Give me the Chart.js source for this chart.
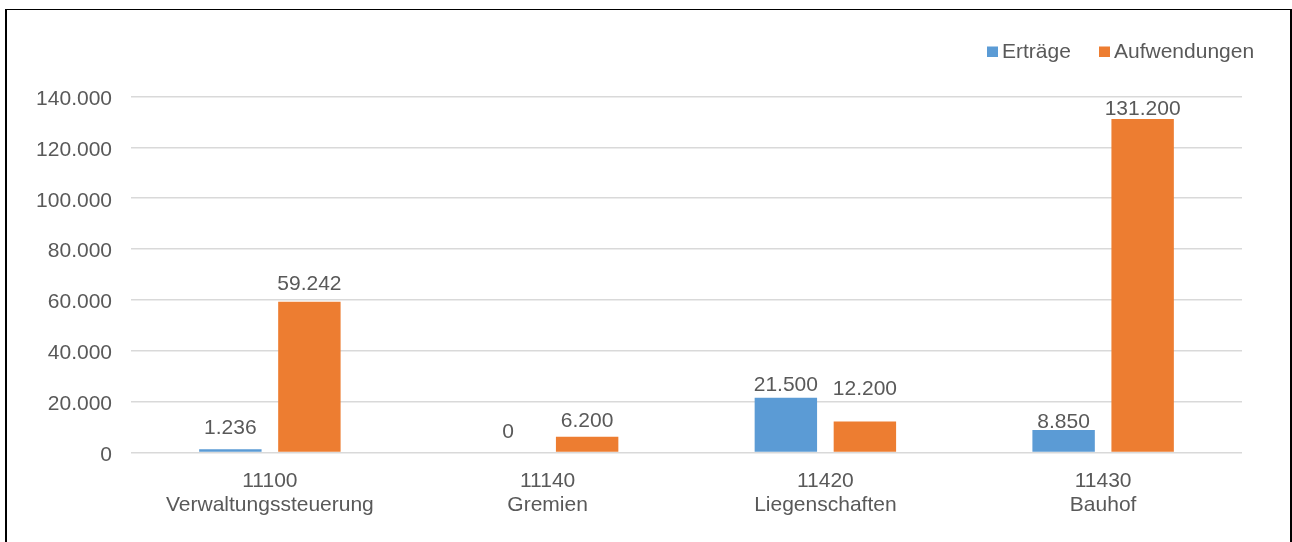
<!DOCTYPE html>
<html>
<head>
<meta charset="utf-8">
<script src="https://cdn.jsdelivr.net/npm/chart.js@4.4.1/dist/chart.umd.min.js"></script>
<style>
  html, body { margin: 0; padding: 0; background: #fff; }
  #wrap { position: relative; width: 1292px; height: 542px; overflow: hidden; }
  #frame { position: absolute; left: 5px; top: 9px; width: 1287px; height: 600px;
           box-sizing: border-box; border-left: 2px solid #000; border-top: 1px solid #000; border-right: 2px solid #000; }
  canvas { position: absolute; left: 0; top: 0; }
</style>
</head>
<body>
<div id="wrap">
  <div id="frame"></div>
  <canvas id="c" width="1292" height="542"></canvas>
</div>
<script>
// ---- data ----
const categoryCodes = ['11100', '11140', '11420', '11430'];
const categoryNames = ['Verwaltungssteuerung', 'Gremien', 'Liegenschaften', 'Bauhof'];
const ertraege = [1236, 0, 21500, 8850];
const aufwendungen = [59242, 6200, 12200, 131200];
const seriesNames = ['Erträge', 'Aufwendungen'];
const yTicks = [0, 20000, 40000, 60000, 80000, 100000, 120000, 140000];

// ---- styles ----
const TEXT = '#595959';
const FONT = '"Liberation Sans", Arial, sans-serif';
const COLORS = ['#5B9BD5', '#ED7D31'];
// vertical distance from bar top to label centre (Excel placed them individually)
const labelOffsets = [[21, 20, 13, 8], [17.5, 15.5, 32.5, 9.5]];

function fmt(v) {
  return String(Math.round(v)).replace(/\B(?=(\d{3})+(?!\d))/g, '.');
}

const valueLabels = {
  id: 'valueLabels',
  afterDatasetsDraw(chart) {
    const ctx = chart.ctx;
    ctx.save();
    ctx.font = '21px ' + FONT;
    ctx.fillStyle = TEXT;
    ctx.textAlign = 'center';
    ctx.textBaseline = 'middle';
    chart.data.datasets.forEach((ds, di) => {
      const meta = chart.getDatasetMeta(di);
      meta.data.forEach((el, i) => {
        ctx.fillText(fmt(ds.data[i]), el.x, el.y - labelOffsets[di][i]);
      });
    });
    ctx.restore();
  }
};

const legendBoxes = [{ box: 987, text: 1002 }, { box: 1099, text: 1114 }];
const customLegend = {
  id: 'customLegend',
  afterDraw(chart) {
    const ctx = chart.ctx;
    ctx.save();
    ctx.font = '21px ' + FONT;
    ctx.textBaseline = 'middle';
    ctx.textAlign = 'left';
    chart.data.datasets.forEach((ds, di) => {
      const p = legendBoxes[di];
      ctx.fillStyle = ds.backgroundColor;
      ctx.fillRect(p.box, 46.5, 11, 10.5);
      ctx.fillStyle = TEXT;
      ctx.fillText(ds.label, p.text, 52.5);
    });
    ctx.restore();
  }
};

new Chart(document.getElementById('c'), {
  type: 'bar',
  data: {
    labels: categoryCodes.map((c, i) => [c, categoryNames[i]]),
    datasets: [
      { label: seriesNames[0], data: ertraege, backgroundColor: COLORS[0] },
      { label: seriesNames[1], data: aufwendungen, backgroundColor: COLORS[1] }
    ]
  },
  options: {
    responsive: false,
    animation: false,
    devicePixelRatio: 1,
    layout: { padding: { top: 96.5, left: 0, right: 50, bottom: 0 } },
    datasets: { bar: { categoryPercentage: 0.569, barPercentage: 0.79 } },
    plugins: { legend: { display: false }, tooltip: { enabled: false } },
    scales: {
      x: {
        grid: { display: false, drawTicks: false },
        border: { display: false },
        ticks: { color: TEXT, font: { family: FONT, size: 21, lineHeight: 24 / 21 }, padding: 16.3, maxRotation: 0, autoSkip: false },
        afterFit(scale) { scale.height = 89.5; }
      },
      y: {
        min: 0, max: 140000,
        afterBuildTicks(scale) { scale.ticks = yTicks.map(v => ({ value: v })); },
        grid: { color: '#d9d9d9', lineWidth: 1.5, drawTicks: false },
        border: { display: false },
        ticks: { color: TEXT, font: { family: FONT, size: 21 }, padding: 19, labelOffset: 2.5, callback: v => fmt(v) },
        afterFit(scale) { scale.width = 131; }
      }
    }
  },
  plugins: [valueLabels, customLegend]
});
</script>
</body>
</html>
